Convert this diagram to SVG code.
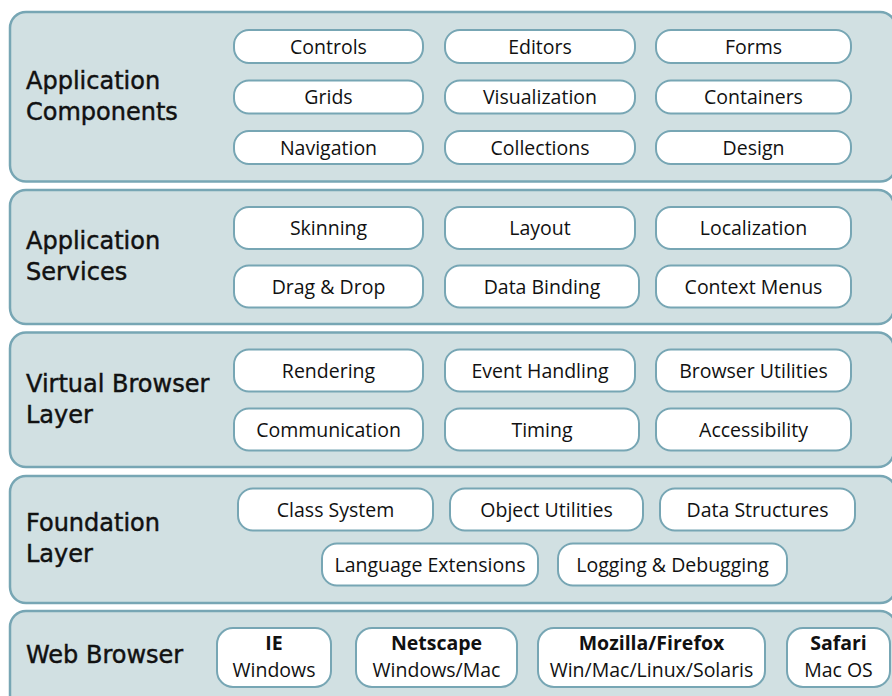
<svg xmlns="http://www.w3.org/2000/svg" width="892" height="696" viewBox="0 0 892 696">
<style>
.layer{fill:#d1e0e2;stroke:#77a6b4;stroke-width:2.5}
.pill{fill:#ffffff;stroke:#77a6b4;stroke-width:2}
.title{font-family:"DejaVu Sans",sans-serif;font-size:24px;fill:#111;stroke:#111;stroke-width:0.45}
.lbl{font-family:"Open Sans","Liberation Sans",sans-serif;font-size:19.5px;fill:#111;text-anchor:middle}
.b{font-weight:bold}
</style>
<rect width="892" height="696" fill="#ffffff"/>
<g id="layer-components">
<rect class="layer" x="10" y="12" width="886" height="169.5" rx="16"/>
<text class="title" x="26" y="89">Application</text>
<text class="title" x="26" y="120">Components</text>
</g>
<g id="layer-services">
<rect class="layer" x="10" y="190" width="884" height="134" rx="16"/>
<text class="title" x="26" y="249">Application</text>
<text class="title" x="26" y="280">Services</text>
</g>
<g id="layer-virtual">
<rect class="layer" x="10" y="332.5" width="884" height="134.5" rx="16"/>
<text class="title" x="26" y="392">Virtual Browser</text>
<text class="title" x="26" y="423">Layer</text>
</g>
<g id="layer-foundation">
<rect class="layer" x="10" y="476" width="886" height="127" rx="16"/>
<text class="title" x="26" y="531">Foundation</text>
<text class="title" x="26" y="562">Layer</text>
</g>
<g id="layer-browser">
<rect class="layer" x="10" y="611" width="886" height="100" rx="16"/>
<text class="title" x="26" y="663">Web Browser</text>
</g>
<g id="controls"><rect class="pill" x="234" y="30" width="189" height="33" rx="15"/><text class="lbl" x="328.5" y="53.5">Controls</text></g>
<g id="editors"><rect class="pill" x="445" y="30" width="190" height="33" rx="15"/><text class="lbl" x="540" y="53.5">Editors</text></g>
<g id="forms"><rect class="pill" x="656" y="30" width="195" height="33" rx="15"/><text class="lbl" x="753.5" y="53.5">Forms</text></g>
<g id="grids"><rect class="pill" x="234" y="80.5" width="189" height="33" rx="15"/><text class="lbl" x="328.5" y="104">Grids</text></g>
<g id="visualization"><rect class="pill" x="445" y="80.5" width="190" height="33" rx="15"/><text class="lbl" x="540" y="104">Visualization</text></g>
<g id="containers"><rect class="pill" x="656" y="80.5" width="195" height="33" rx="15"/><text class="lbl" x="753.5" y="104">Containers</text></g>
<g id="navigation"><rect class="pill" x="234" y="131" width="189" height="33" rx="15"/><text class="lbl" x="328.5" y="154.5">Navigation</text></g>
<g id="collections"><rect class="pill" x="445" y="131" width="190" height="33" rx="15"/><text class="lbl" x="540" y="154.5">Collections</text></g>
<g id="design"><rect class="pill" x="656" y="131" width="195" height="33" rx="15"/><text class="lbl" x="753.5" y="154.5">Design</text></g>
<g id="skinning"><rect class="pill" x="234" y="207" width="189" height="42" rx="15"/><text class="lbl" x="328.5" y="235">Skinning</text></g>
<g id="layout"><rect class="pill" x="445" y="207" width="190" height="42" rx="15"/><text class="lbl" x="540" y="235">Layout</text></g>
<g id="localization"><rect class="pill" x="656" y="207" width="195" height="42" rx="15"/><text class="lbl" x="753.5" y="235">Localization</text></g>
<g id="dragdrop"><rect class="pill" x="234" y="265.5" width="189" height="42" rx="15"/><text class="lbl" x="328.5" y="293.5">Drag &amp; Drop</text></g>
<g id="databinding"><rect class="pill" x="445" y="265.5" width="194" height="42" rx="15"/><text class="lbl" x="542" y="293.5">Data Binding</text></g>
<g id="contextmenus"><rect class="pill" x="656" y="265.5" width="195" height="42" rx="15"/><text class="lbl" x="753.5" y="293.5">Context Menus</text></g>
<g id="rendering"><rect class="pill" x="234" y="349.5" width="189" height="42" rx="15"/><text class="lbl" x="328.5" y="377.5">Rendering</text></g>
<g id="eventhandling"><rect class="pill" x="445" y="349.5" width="190" height="42" rx="15"/><text class="lbl" x="540" y="377.5">Event Handling</text></g>
<g id="browserutilities"><rect class="pill" x="656" y="349.5" width="195" height="42" rx="15"/><text class="lbl" x="753.5" y="377.5">Browser Utilities</text></g>
<g id="communication"><rect class="pill" x="234" y="408.5" width="189" height="42" rx="15"/><text class="lbl" x="328.5" y="436.5">Communication</text></g>
<g id="timing"><rect class="pill" x="445" y="408.5" width="194" height="42" rx="15"/><text class="lbl" x="542" y="436.5">Timing</text></g>
<g id="accessibility"><rect class="pill" x="656" y="408.5" width="195" height="42" rx="15"/><text class="lbl" x="753.5" y="436.5">Accessibility</text></g>
<g id="classsystem"><rect class="pill" x="238" y="488.5" width="195" height="42" rx="15"/><text class="lbl" x="335.5" y="516.5">Class System</text></g>
<g id="objectutilities"><rect class="pill" x="450" y="488.5" width="193" height="42" rx="15"/><text class="lbl" x="546.5" y="516.5">Object Utilities</text></g>
<g id="datastructures"><rect class="pill" x="660" y="488.5" width="195" height="42" rx="15"/><text class="lbl" x="757.5" y="516.5">Data Structures</text></g>
<g id="languageextensions"><rect class="pill" x="322" y="543.5" width="216" height="42" rx="15"/><text class="lbl" x="430" y="571.5">Language Extensions</text></g>
<g id="logging"><rect class="pill" x="558" y="543.5" width="229" height="42" rx="15"/><text class="lbl" x="672.5" y="571.5">Logging &amp; Debugging</text></g>
<g id="ie"><rect class="pill" x="217" y="628" width="114" height="59" rx="16"/><text class="lbl b" x="274" y="650">IE</text><text class="lbl" x="274" y="677">Windows</text></g>
<g id="netscape"><rect class="pill" x="356" y="628" width="161" height="59" rx="16"/><text class="lbl b" x="436.5" y="650">Netscape</text><text class="lbl" x="436.5" y="677">Windows/Mac</text></g>
<g id="mozilla"><rect class="pill" x="538" y="628" width="227" height="59" rx="16"/><text class="lbl b" x="651.5" y="650">Mozilla/Firefox</text><text class="lbl" x="651.5" y="677">Win/Mac/Linux/Solaris</text></g>
<g id="safari"><rect class="pill" x="787" y="628" width="103" height="59" rx="16"/><text class="lbl b" x="838.5" y="650">Safari</text><text class="lbl" x="838.5" y="677">Mac OS</text></g>
<g id="connectors"></g>
</svg>
